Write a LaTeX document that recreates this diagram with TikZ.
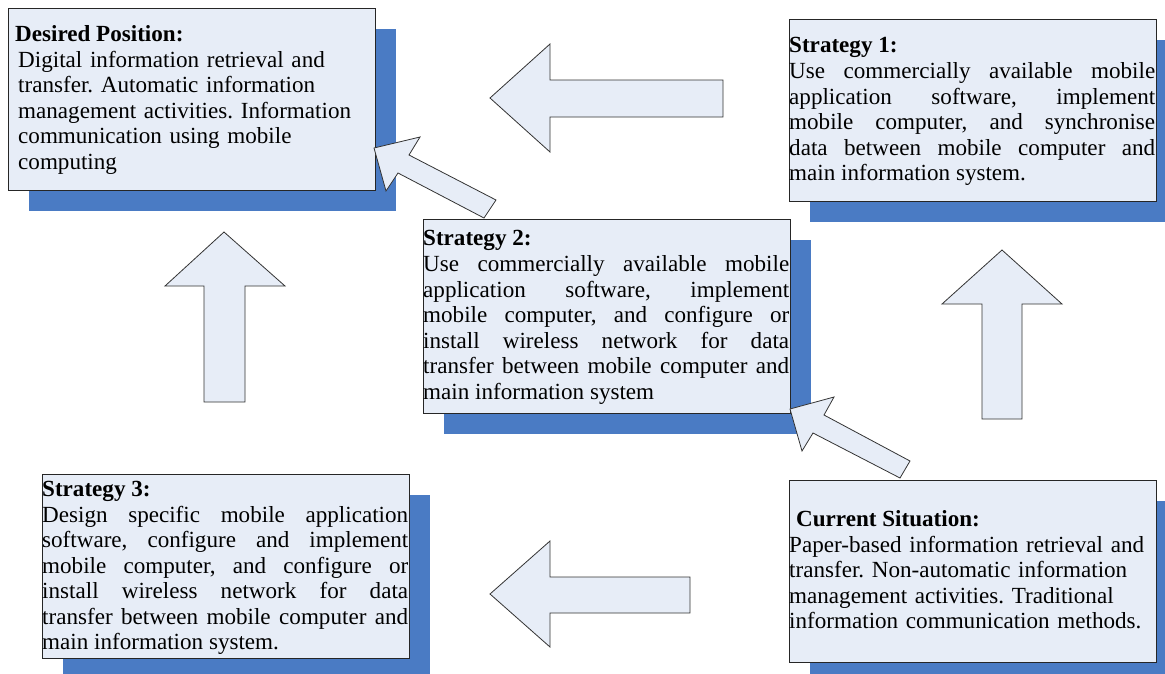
\documentclass[tikz,border=0pt]{standalone}
\usepackage{fontspec}
\setmainfont{Liberation Serif}
\usetikzlibrary{shadows}
\definecolor{boxfill}{HTML}{E7EDF7}
\definecolor{shadowblue}{HTML}{4A7BC4}
\newcommand\jl[1]{\makebox[366pt][s]{\spaceskip=0pt\xspaceskip=0pt #1}\\}
\frenchspacing
\tikzset{
  infobox/.style={draw=black!85, line width=1pt, fill=boxfill, inner sep=0pt,
    anchor=north west, minimum width=367pt, minimum height=182pt,
    drop shadow={shadow xshift=20pt, shadow yshift=-20pt, fill=shadowblue, opacity=1, draw=none}},
  titletext/.style={anchor=base west, inner sep=0pt, font=\fontsize{23.1}{25.5}\selectfont\bfseries},
  bodytext/.style={anchor=base west, inner sep=0pt, text width=366pt, align=left,
    font=\fontsize{23.1}{25.5}\selectfont\frenchspacing},
  jbodytext/.style={bodytext, align=justify},
  blockarrow/.style={draw=black!80, line width=0.8pt, fill=boxfill, line join=miter},
}
\begin{document}
\begin{tikzpicture}[x=1pt,y=-1pt]
\path[use as bounding box] (0,0) rectangle (1165,673);
\clip (0,0) rectangle (1165,673);
\fill[white] (0,0) rectangle (1165,673);

% boxes
\node[infobox] (D) at (8,8) {};
\node[infobox, minimum height=182pt] (S1) at (789,19) {};
\node[infobox, minimum height=194pt] (S2) at (423,219) {};
\node[infobox, minimum height=184pt] (S3) at (42,474) {};
\node[infobox, minimum height=182pt] (C) at (789,480) {};

% texts
\node[titletext] (Dt) at (15,41) {Desired Position:};
\node[bodytext] (Db) at (18,67) {Digital information retrieval and\\
transfer. Automatic information\\
management activities. Information\\
communication using mobile\\
computing};

\node[titletext] (S1t) at (789,52) {Strategy 1:};
\node[jbodytext] (S1b) at (789,78.5) {\jl{Use commercially available mobile}%
\jl{application software, implement}%
\jl{mobile computer, and synchronise}%
\jl{data between mobile computer and}%
main information system.};

\node[titletext] (S2t) at (423,245.5) {Strategy 2:};
\node[jbodytext] (S2b) at (423,271.5) {\jl{Use commercially available mobile}%
\jl{application software, implement}%
\jl{mobile computer, and configure or}%
\jl{install wireless network for data}%
\jl{transfer between mobile computer and}%
main information system};

\node[titletext] (S3t) at (42,496.5) {Strategy 3:};
\node[jbodytext] (S3b) at (42,522) {\jl{Design specific mobile application}%
\jl{software, configure and implement}%
\jl{mobile computer, and configure or}%
\jl{install wireless network for data}%
\jl{transfer between mobile computer and}%
main information system.};

\node[titletext] (Ct) at (796,526.5) {Current Situation:};
\node[bodytext] (Cb) at (789,552) {Paper-based information retrieval and\\
transfer. Non-automatic information\\
management activities. Traditional\\
information communication methods.};

% block arrows
\draw[blockarrow] (723,80) -- (550,80) -- (550,44) -- (490,98) -- (550,152) -- (550,117) -- (723,117) -- cycle;
\draw[blockarrow] (690,577) -- (550,577) -- (550,541) -- (490,594) -- (550,647) -- (550,613) -- (690,613) -- cycle;
\draw[blockarrow] (204,402) -- (204,286) -- (165,286) -- (224,232) -- (285,286) -- (245,286) -- (245,402) -- cycle;
\draw[blockarrow] (982,419) -- (982,304) -- (942,304) -- (1002,250) -- (1062,304) -- (1022,304) -- (1022,419) -- cycle;
\draw[blockarrow] (496,200) -- (409,155) -- (420,137) -- (374,148) -- (386,191) -- (398,173) -- (484,218) -- cycle;
\draw[blockarrow] (910,461) -- (824,415) -- (834,397) -- (790,409) -- (802,451) -- (813,433) -- (900,478) -- cycle;
\end{tikzpicture}
\end{document}
